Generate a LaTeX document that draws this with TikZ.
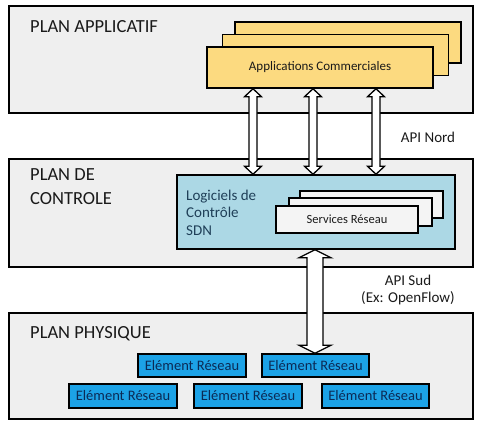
\documentclass[tikz,border=0pt]{standalone}
\usepackage{fontspec}
\setmainfont{Carlito}
\usetikzlibrary{calc}
\definecolor{planfill}{HTML}{EFEFEF}
\definecolor{appyellow}{HTML}{FCDA80}
\definecolor{ctlcyan}{HTML}{ACD8E5}
\definecolor{neblue}{HTML}{1CA2E6}
\definecolor{svcfill}{HTML}{F4F4F4}
\definecolor{darktxt}{HTML}{1A1A1A}
\definecolor{slatetxt}{HTML}{1F3F58}
\definecolor{navytxt}{HTML}{0B2A55}
\tikzset{
  plan/.style={draw=black, line width=1.5pt, fill=planfill, inner sep=0pt, minimum width=464pt},
  appbox/.style={draw=black, line width=1.5pt, fill=appyellow, inner sep=0pt, minimum width=226pt, minimum height=41pt},
  svcbox/.style={draw=black, line width=1.5pt, fill=svcfill, inner sep=0pt, minimum width=143pt, minimum height=27pt},
  ctlbox/.style={draw=black, line width=1.5pt, fill=ctlcyan, inner sep=0pt},
  nebox/.style={draw=black, line width=1.5pt, fill=neblue, inner sep=0pt, minimum width=108pt, text=navytxt, font=\fontsize{14.5}{16}\selectfont},
  title/.style={anchor=base west, inner sep=0pt, text=darktxt, font=\fontsize{18.5}{22}\selectfont},
  apilbl/.style={anchor=base, inner sep=0pt, text=darktxt, font=\fontsize{15}{17}\selectfont},
  arrowbody/.style={draw=black, line width=1.3pt, fill=white, line join=miter}
}
% #1 x, #2 top anchor, #3 bottom anchor, #4 half shaft, #5 half head, #6 head length
\newcommand\hollowarrow[6]{%
  \draw[arrowbody] let \p1=(#2), \p2=(#3) in
    (#1,\y1) -- (#1+#5,\y1-#6pt) -- (#1+#4,\y1-#6pt) -- (#1+#4,\y2+#6pt) -- (#1+#5,\y2+#6pt)
    -- (#1,\y2) -- (#1-#5,\y2+#6pt) -- (#1-#4,\y2+#6pt) -- (#1-#4,\y1-#6pt) -- (#1-#5,\y1-#6pt) -- cycle;}
\begin{document}
\begin{tikzpicture}[x=1pt,y=-1pt]
\useasboundingbox (0,0) rectangle (478,431);
% planes
\node[plan, minimum height=107pt] (papp) at (241,59.5) {};
\node[plan, minimum height=108pt] (pctl) at (241,213) {};
\node[plan, minimum height=106pt] (pphy) at (241,366) {};
\node[title] (tapp) at (30,32) {PLAN APPLICATIF};
\node[title] (tctl1) at (30,180) {PLAN DE};
\node[title] (tctl2) at (30,204) {CONTROLE};
\node[title] (tphy) at (30,338) {PLAN PHYSIQUE};
% applications
\node[appbox] (app3) at (348,42.5) {};
\node[appbox] (app2) at (335.5,55) {};
\node[appbox, text=darktxt, font=\fontsize{13}{15}\selectfont] (app1) at (320,67.5) {Applications Commerciales};
% control
\node[ctlbox, minimum width=278pt, minimum height=74pt] (ctl) at (316,212) {};
\node[anchor=base west, inner sep=0pt, text=slatetxt, font=\fontsize{15}{17}\selectfont] (sdn1) at (186,200) {Logiciels de};
\node[anchor=base west, inner sep=0pt, text=slatetxt, font=\fontsize{15}{17}\selectfont] (sdn2) at (186,217.5) {Contrôle};
\node[anchor=base west, inner sep=0pt, text=slatetxt, font=\fontsize{15}{17}\selectfont] (sdn3) at (186,235) {SDN};
\node[svcbox] (svc3) at (371.5,204.5) {};
\node[svcbox, minimum height=28pt] (svc2) at (360.5,212) {};
\node[svcbox, minimum width=142pt, text=darktxt, font=\fontsize{12.5}{15}\selectfont] (svc1) at (347,219.5) {Services Réseau};
% physical
\node[nebox, minimum height=23pt] (ne1) at (192,365.5) {Elément Réseau};
\node[nebox, minimum height=23pt, minimum width=107pt] (ne2) at (315.5,365.5) {Elément Réseau};
\node[nebox, minimum height=24pt] (ne3) at (123,396) {Elément Réseau};
\node[nebox, minimum height=24pt] (ne4) at (248,396) {Elément Réseau};
\node[nebox, minimum height=24pt, minimum width=107pt] (ne5) at (375.5,396) {Elément Réseau};
% API labels
\node[apilbl] (apin) at (428,142) {API Nord};
\node[apilbl] (apis) at (408,285) {API Sud};
\node[apilbl] (apis2) at (408,302) {(Ex: OpenFlow)};
% arrows
\hollowarrow{253}{app1.south}{ctl.north}{4}{8.5}{8}
\hollowarrow{313}{app1.south}{ctl.north}{4}{8.5}{8}
\hollowarrow{376}{app1.south}{ctl.north}{4}{8.5}{8}
\hollowarrow{315}{ctl.south}{ne2.north}{8}{16}{8}
\end{tikzpicture}
\end{document}
